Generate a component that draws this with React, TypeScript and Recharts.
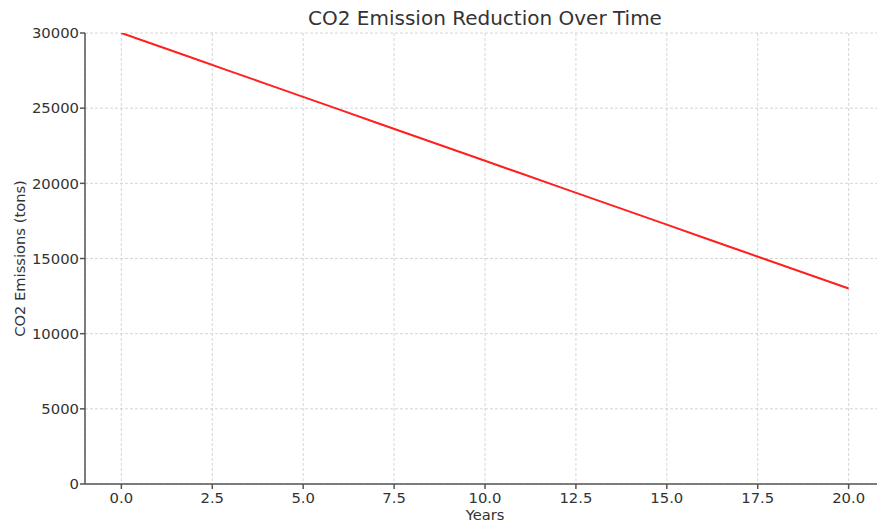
import React from 'react';
import { LineChart, Line, XAxis, YAxis, CartesianGrid, Label } from 'recharts';

// yearly emissions (straight decline from 30000 to 13000)
const years = [0, 1, 2, 3, 4, 5, 6, 7, 8, 9, 10, 11, 12, 13, 14, 15, 16, 17, 18, 19, 20];
const emissions = [
  30000, 29150, 28300, 27450, 26600, 25750, 24900, 24050, 23200, 22350, 21500,
  20650, 19800, 18950, 18100, 17250, 16400, 15550, 14700, 13850, 13000
];
const xTicks = [0, 2.5, 5, 7.5, 10, 12.5, 15, 17.5, 20];
const yTicks = [0, 5000, 10000, 15000, 20000, 25000, 30000];

const data = years.map((y, i) => ({ year: y, co2: emissions[i] }));

const font = 'DejaVu Sans, sans-serif';
const textColor = '#333333';
const axisColor = '#555555';

export default function App() {
  return (
    <div style={{ position: 'absolute', left: 0, top: 0, width: 877, height: 522, fontFamily: font, overflow: 'hidden' }}>
      <div
        style={{
          position: 'absolute',
          left: 85,
          width: 800,
          top: 5,
          textAlign: 'center',
          fontSize: 20,
          color: textColor,
          lineHeight: '26px'
        }}
      >
        CO2 Emission Reduction Over Time
      </div>
      <LineChart
        width={877}
        height={522}
        data={data}
        margin={{ top: 33, right: -8, left: 0, bottom: 0 }}
      >
        <CartesianGrid stroke="#cccccc" strokeDasharray="3 2" strokeWidth={0.8} />
        <XAxis
          dataKey="year"
          type="number"
          domain={[-1, 21]}
          ticks={xTicks}
          tickFormatter={(v: number) => v.toFixed(1)}
          height={38}
          tickSize={5}
          tickMargin={3}
          stroke={axisColor}
          strokeWidth={1.5}
          tick={{ fill: textColor, fontSize: 14.8, fontFamily: font }}
          allowDataOverflow
        >
          <Label value="Years" position="center" dy={12} fill={textColor} fontSize={14.7} fontFamily={font} />
        </XAxis>
        <YAxis
          type="number"
          domain={[0, 30000]}
          ticks={yTicks}
          width={85}
          tickSize={5}
          tickMargin={1}
          stroke={axisColor}
          strokeWidth={1.5}
          tick={{ fill: textColor, fontSize: 14.8, fontFamily: font }}
          allowDataOverflow
        >
          <Label
            value="CO2 Emissions (tons)"
            position="center"
            angle={-90}
            dx={-23}
            fill={textColor}
            fontSize={14.7}
            fontFamily={font}
          />
        </YAxis>
        <Line
          type="linear"
          dataKey="co2"
          stroke="#ff2020"
          strokeWidth={2}
          dot={false}
          isAnimationActive={false}
        />
      </LineChart>
    </div>
  );
}
